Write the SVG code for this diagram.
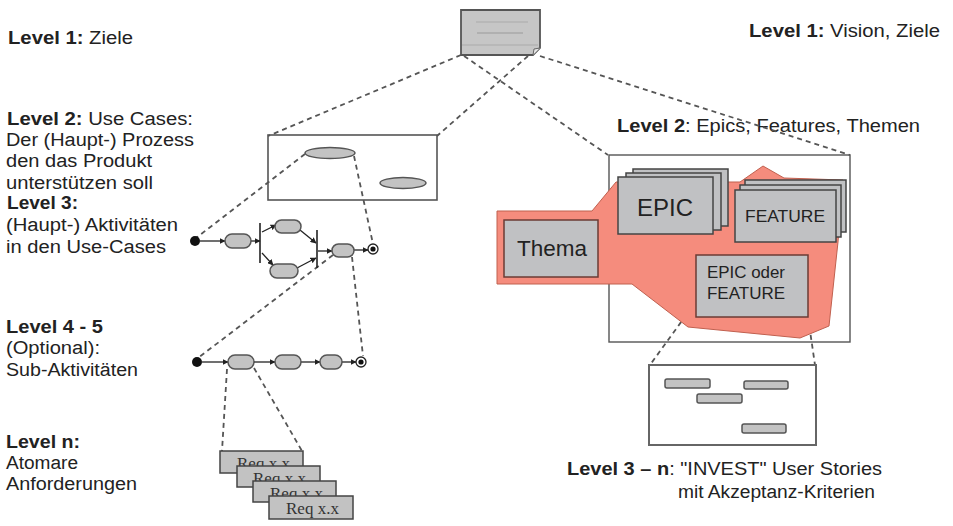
<svg xmlns="http://www.w3.org/2000/svg" width="953" height="526" viewBox="0 0 953 526">
<style>
.t{font-family:"Liberation Sans",Arial,sans-serif;font-size:18px;fill:#222}
.b{font-weight:bold}
.card{fill:#c0c1c3;stroke:#444;stroke-width:1.5}
.rcard{fill:#c0c1c3;stroke:#6b3b35;stroke-width:1.5}
.act{fill:#c3c3c3;stroke:#555;stroke-width:1.5}
.dash{fill:none;stroke:#555;stroke-width:1.8;stroke-dasharray:5 4}
.flow{fill:none;stroke:#222;stroke-width:1.3;marker-end:url(#ah)}
.bar{stroke:#222;stroke-width:1.6}
.req{fill:#c2c2c2;stroke:#444;stroke-width:1.5}
.rt{font-family:"Liberation Serif","Times New Roman",serif;font-size:17px;fill:#333}
.bar2{fill:#c3c3c3;stroke:#555;stroke-width:1.5}
</style>
<defs>
<marker id="ah" viewBox="0 0 10 10" refX="9" refY="5" markerWidth="6" markerHeight="6" orient="auto" markerUnits="userSpaceOnUse">
<path d="M0,0 L10,5 L0,10 z" fill="#222"/>
</marker>
</defs>
<rect width="953" height="526" fill="#fff"/>

<!-- labels -->
<g id="labels">
<text class="t" x="8" y="44" textLength="125" lengthAdjust="spacingAndGlyphs"><tspan class="b">Level 1:</tspan> Ziele</text>
<text class="t" x="7" y="125" textLength="186" lengthAdjust="spacingAndGlyphs"><tspan class="b">Level 2:</tspan> Use Cases:</text>
<text class="t" x="6" y="146" textLength="188" lengthAdjust="spacingAndGlyphs">Der (Haupt-) Prozess</text>
<text class="t" x="6" y="167" textLength="146" lengthAdjust="spacingAndGlyphs">den das Produkt</text>
<text class="t" x="6" y="189" textLength="147" lengthAdjust="spacingAndGlyphs">unterstützen soll</text>
<text class="t b" x="7" y="209" textLength="71" lengthAdjust="spacingAndGlyphs">Level 3:</text>
<text class="t" x="6" y="231" textLength="172" lengthAdjust="spacingAndGlyphs">(Haupt-) Aktivitäten</text>
<text class="t" x="6" y="253" textLength="160" lengthAdjust="spacingAndGlyphs">in den Use-Cases</text>
<text class="t b" x="6" y="333" textLength="97" lengthAdjust="spacingAndGlyphs">Level 4 - 5</text>
<text class="t" x="6" y="354" textLength="94" lengthAdjust="spacingAndGlyphs">(Optional):</text>
<text class="t" x="6" y="376" textLength="132" lengthAdjust="spacingAndGlyphs">Sub-Aktivitäten</text>
<text class="t b" x="6" y="448" textLength="74" lengthAdjust="spacingAndGlyphs">Level n:</text>
<text class="t" x="6" y="469" textLength="72" lengthAdjust="spacingAndGlyphs">Atomare</text>
<text class="t" x="6" y="490" textLength="131" lengthAdjust="spacingAndGlyphs">Anforderungen</text>
<text class="t" x="749" y="37" textLength="191" lengthAdjust="spacingAndGlyphs"><tspan class="b">Level 1:</tspan> Vision, Ziele</text>
<text class="t" x="617" y="132" textLength="303" lengthAdjust="spacingAndGlyphs"><tspan class="b">Level 2</tspan>: Epics, Features, Themen</text>
<text class="t" x="567" y="475" textLength="315" lengthAdjust="spacingAndGlyphs"><tspan class="b">Level 3 – n</tspan>: "INVEST" User Stories</text>
<text class="t" x="678" y="498" textLength="197" lengthAdjust="spacingAndGlyphs">mit Akzeptanz-Kriterien</text>
</g>

<!-- connectors -->
<g id="connectors">
<line class="dash" x1="461" y1="55" x2="268" y2="136"/>
<line class="dash" x1="464" y1="56" x2="608" y2="155"/>
<line class="dash" x1="528" y1="56" x2="437" y2="136"/>
<line class="dash" x1="540" y1="56" x2="850" y2="155"/>
<line class="dash" x1="305" y1="154" x2="196" y2="238"/>
<line class="dash" x1="354" y1="156" x2="373" y2="244"/>
<line class="dash" x1="333" y1="255" x2="198" y2="358"/>
<line class="dash" x1="352" y1="257" x2="363" y2="356"/>
<line class="dash" x1="227" y1="369" x2="222" y2="451"/>
<line class="dash" x1="254" y1="368" x2="302" y2="451"/>
<line class="dash" x1="697" y1="300" x2="650" y2="365"/>
<line class="dash" x1="808" y1="317" x2="815" y2="365"/>
<!-- level 3 flow -->
<line class="flow" x1="200" y1="241" x2="225" y2="241"/>
<line class="flow" x1="251" y1="241" x2="260" y2="241"/>
<line class="flow" x1="262" y1="232" x2="276" y2="225"/>
<line class="flow" x1="262" y1="253" x2="273" y2="265"/>
<line class="flow" x1="300" y1="230" x2="316" y2="243"/>
<line class="flow" x1="297" y1="268" x2="316" y2="258"/>
<line class="flow" x1="318" y1="251" x2="332" y2="251"/>
<line class="flow" x1="354" y1="250" x2="368" y2="250"/>
<!-- level 4 flow -->
<line class="flow" x1="202" y1="362" x2="228" y2="362"/>
<line class="flow" x1="254" y1="362" x2="275" y2="362"/>
<line class="flow" x1="301" y1="362" x2="320" y2="362"/>
<line class="flow" x1="342" y1="362" x2="356" y2="362"/>
</g>

<!-- level 1 document -->
<g id="doc">
<path d="M461,10 H540 V48 L533,55 H461 Z" fill="#c6c6c6" stroke="#555" stroke-width="1.8"/>
<path d="M533,55 L534,49 L540,48" fill="#e6e6e6" stroke="#666" stroke-width="1"/>
<line x1="476" y1="22" x2="528" y2="22" stroke="#aaa" stroke-width="1.2"/>
<line x1="477" y1="33" x2="523" y2="33" stroke="#999" stroke-width="1.2"/>
<line x1="462" y1="45" x2="538" y2="45" stroke="#aaa" stroke-width="1.2"/>
</g>

<!-- level 2 use cases -->
<g id="usecases">
<rect x="268" y="135" width="169" height="65" fill="none" stroke="#555" stroke-width="1.6"/>
<ellipse cx="330" cy="153" rx="25" ry="5.5" class="act"/>
<ellipse cx="403" cy="183" rx="23" ry="5.5" class="act"/>
</g>

<!-- level 3 activities -->
<g id="activities3">
<circle cx="195" cy="241" r="5" fill="#111"/>
<rect class="act" x="225" y="234" width="26" height="14" rx="7"/>
<line class="bar" x1="260" y1="223" x2="260" y2="263"/>
<rect class="act" x="275" y="220" width="26" height="13" rx="6.5"/>
<rect class="act" x="270" y="264" width="28" height="14" rx="7"/>
<line class="bar" x1="317" y1="230" x2="317" y2="268"/>
<rect class="act" x="332" y="244" width="22" height="13" rx="6.5"/>
<circle cx="373" cy="249" r="5" fill="#fff" stroke="#222" stroke-width="1.3"/>
<circle cx="373" cy="249" r="2.6" fill="#111"/>
</g>

<!-- level 4-5 sub activities -->
<g id="activities45">
<circle cx="197" cy="362" r="5" fill="#111"/>
<rect class="act" x="228" y="355" width="26" height="14" rx="7"/>
<rect class="act" x="275" y="355" width="26" height="14" rx="7"/>
<rect class="act" x="320" y="355" width="22" height="14" rx="7"/>
<circle cx="361" cy="362" r="5" fill="#fff" stroke="#222" stroke-width="1.3"/>
<circle cx="361" cy="362" r="2.6" fill="#111"/>
</g>

<!-- level n requirements -->
<g id="requirements">
<rect class="req" x="220" y="451" width="83" height="22"/>
<text class="rt" x="237" y="469">Req x.x</text>
<rect class="req" x="237" y="466" width="83" height="21"/>
<text class="rt" x="253" y="484">Req x.x</text>
<rect class="req" x="253" y="481" width="83" height="21"/>
<text class="rt" x="270" y="499">Req x.x</text>
<rect class="req" x="269" y="496" width="84" height="23"/>
<text class="rt" x="286" y="514">Req x.x</text>
</g>

<!-- level 2 epics/features/themes -->
<g id="epics">
<rect x="609" y="155" width="241" height="187" fill="none" stroke="#555" stroke-width="1.4"/>
<polygon points="497,211 592,211 616,182 740,182 763,166 784,178 843,180 838,242 829,326 800,338 688,327 632,284 497,284" fill="#f58c7d" stroke="#c0604f" stroke-width="1"/>
<g id="thema">
<rect class="rcard" x="504" y="220" width="94" height="57"/>
<text class="t" x="517" y="256" style="font-size:22px" textLength="70" lengthAdjust="spacingAndGlyphs">Thema</text>
</g>
<g id="epic">
<rect class="card" x="633" y="169" width="95" height="57"/>
<rect class="card" x="626" y="173" width="95" height="57"/>
<rect class="card" x="618" y="177" width="95" height="57"/>
<text class="t" x="637" y="216" style="font-size:24px" textLength="56" lengthAdjust="spacingAndGlyphs">EPIC</text>
</g>
<g id="feature">
<rect class="card" x="745" y="180" width="101" height="52"/>
<rect class="card" x="740" y="185" width="101" height="52"/>
<rect class="card" x="735" y="190" width="101" height="52"/>
<text class="t" x="745" y="222" style="font-size:16px" textLength="80" lengthAdjust="spacingAndGlyphs">FEATURE</text>
</g>
<g id="epicfeature">
<rect class="rcard" x="696" y="255" width="112" height="62"/>
<text class="t" x="707" y="278" style="font-size:16px" textLength="78" lengthAdjust="spacingAndGlyphs">EPIC oder</text>
<text class="t" x="707" y="299" style="font-size:16px" textLength="78" lengthAdjust="spacingAndGlyphs">FEATURE</text>
</g>
</g>

<!-- level 3-n user stories -->
<g id="stories">
<rect x="649" y="365" width="167" height="80" fill="#fff" stroke="#666" stroke-width="2"/>
<rect class="bar2" x="665" y="379" width="45" height="9" rx="2"/>
<rect class="bar2" x="744" y="381" width="44" height="8" rx="2"/>
<rect class="bar2" x="697" y="394" width="45" height="9" rx="2"/>
<rect class="bar2" x="742" y="424" width="44" height="9" rx="2"/>
</g>
</svg>
